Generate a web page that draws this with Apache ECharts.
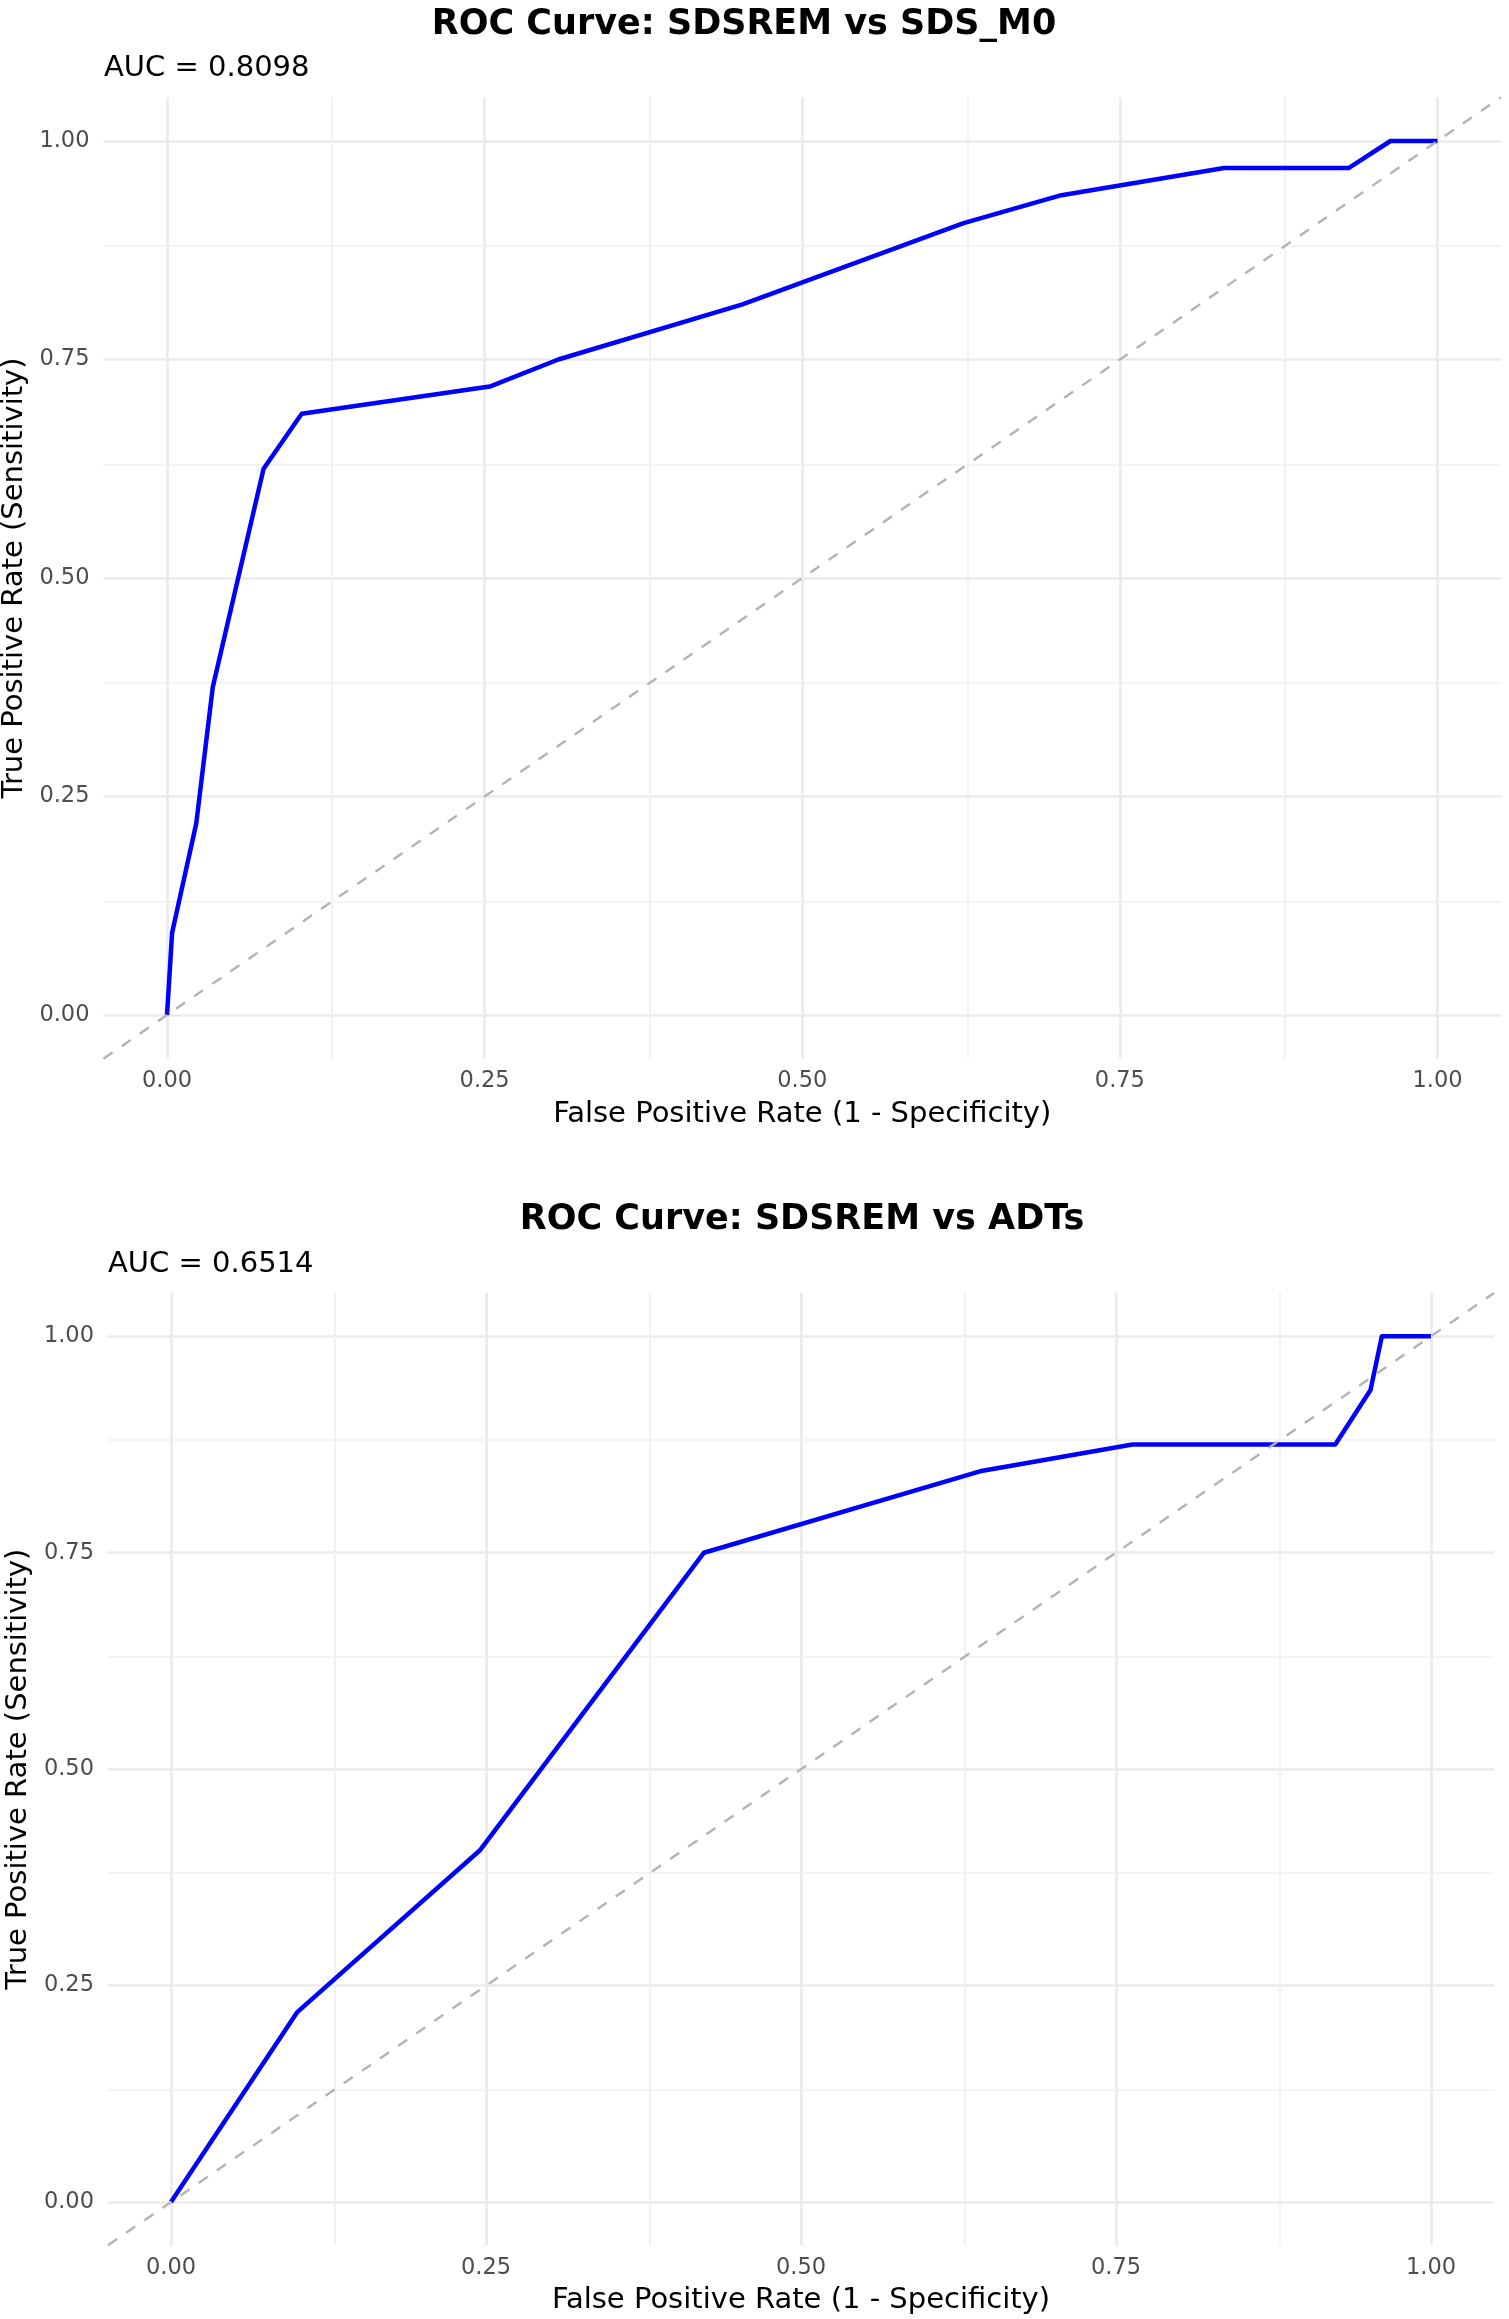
<!DOCTYPE html>
<html><head><meta charset="utf-8">
<script src="https://cdn.jsdelivr.net/npm/echarts@6/dist/echarts.min.js"></script>
<style>html,body{margin:0;padding:0;background:#fff}#c{width:1509px;height:2319px}</style>
</head><body><div id="c"></div>
<script>
const chartTitles = ['ROC Curve: SDSREM vs SDS_M0', 'ROC Curve: SDSREM vs ADTs'];
const aucLabels = ['AUC = 0.8098', 'AUC = 0.6514'];
const xAxisTitle = 'False Positive Rate (1 - Specificity)';
const yAxisTitle = 'True Positive Rate (Sensitivity)';

const fprM0 = [0, 0.004, 0.023, 0.036, 0.076, 0.106, 0.254, 0.308, 0.453, 0.627, 0.704, 0.832, 0.930, 0.963, 1.0];
const tprM0 = [0, 0.094, 0.219, 0.375, 0.625, 0.688, 0.719, 0.750, 0.813, 0.906, 0.938, 0.969, 0.969, 1.0, 1.0];

const fprADT = [0, 0.100, 0.245, 0.423, 0.642, 0.763, 0.924, 0.952, 0.961, 1.0];
const tprADT = [0, 0.219, 0.406, 0.750, 0.844, 0.875, 0.875, 0.938, 1.0, 1.0];

const majorTicks = [0, 0.25, 0.5, 0.75, 1];
const minorTicks = [0.125, 0.375, 0.625, 0.875];
const axisRange = [-0.05, 1.05];

const FONT = '"DejaVu Sans", Verdana, sans-serif';
const chart = echarts.init(document.getElementById('c'), null, {renderer: 'canvas'});

const grids = [
  {left: 103.5, top: 97.3, width: 1397.5, height: 961.4, containLabel: false, outerBoundsMode: 'none'},
  {left: 108, top: 1293, width: 1386, height: 952.3, containLabel: false, outerBoundsMode: 'none'}
];

function isMajor(v) {
  return majorTicks.some(t => Math.abs(t - v) < 1e-6);
}

function makeAxis(kind, idx) {
  const isX = kind === 'x';
  return {
    type: 'value', gridIndex: idx,
    min: axisRange[0], max: axisRange[1], interval: 0.05,
    axisLine: {show: false}, axisTick: {show: false}, splitLine: {show: false},
    axisLabel: {
      formatter: v => isMajor(v) ? v.toFixed(2) : '',
      color: '#4d4d4d', fontSize: 22.5, fontFamily: FONT,
      margin: isX ? 11 : 14
    },
    name: isX ? xAxisTitle : yAxisTitle,
    nameLocation: 'middle',
    nameGap: isX ? 41 : 70,
    nameTextStyle: {color: '#000', fontSize: 29, fontFamily: FONT}
  };
}

function gridLines(idx) {
  const major = {color: '#ebebeb', width: 2.7, type: 'solid'};
  const minor = {color: '#f0f0f0', width: 1.7, type: 'solid'};
  const data = [];
  majorTicks.forEach(v => { data.push({xAxis: v, lineStyle: major}); data.push({yAxis: v, lineStyle: major}); });
  minorTicks.forEach(v => { data.push({xAxis: v, lineStyle: minor}); data.push({yAxis: v, lineStyle: minor}); });
  return {
    type: 'line', xAxisIndex: idx, yAxisIndex: idx, data: [], z: 0, silent: true,
    markLine: {silent: true, symbol: ['none', 'none'], label: {show: false}, z: 0, animation: false, data: data}
  };
}

function curve(idx, fpr, tpr) {
  return {
    type: 'line', xAxisIndex: idx, yAxisIndex: idx, z: 3,
    data: fpr.map((f, i) => [f, tpr[i]]),
    showSymbol: false, symbol: 'none', smooth: false,
    lineStyle: {color: '#0000ff', width: 4.5, join: 'round', cap: 'butt'},
    animation: false
  };
}

function diagonal(idx) {
  return {
    type: 'line', xAxisIndex: idx, yAxisIndex: idx, z: 4,
    data: axisRange.map(v => [v, v]),
    showSymbol: false, symbol: 'none',
    lineStyle: {color: '#b3b3b3', width: 2.4, type: [11, 11]},
    animation: false, silent: true
  };
}

const option = {
  backgroundColor: '#ffffff',
  animation: false,
  grid: grids,
  xAxis: [makeAxis('x', 0), makeAxis('x', 1)],
  yAxis: [makeAxis('y', 0), makeAxis('y', 1)],
  graphic: [
    {type: 'text', x: 744, y: 25, style: {text: chartTitles[0], font: 'bold 35px ' + FONT, fill: '#000', textAlign: 'center', textVerticalAlign: 'middle'}},
    {type: 'text', x: 104, y: 68, style: {text: aucLabels[0], font: '29px ' + FONT, fill: '#000', textAlign: 'left', textVerticalAlign: 'middle'}},
    {type: 'text', x: 802, y: 1220, style: {text: chartTitles[1], font: 'bold 35px ' + FONT, fill: '#000', textAlign: 'center', textVerticalAlign: 'middle'}},
    {type: 'text', x: 108, y: 1264, style: {text: aucLabels[1], font: '29px ' + FONT, fill: '#000', textAlign: 'left', textVerticalAlign: 'middle'}}
  ],
  series: [
    gridLines(0), gridLines(1),
    curve(0, fprM0, tprM0), curve(1, fprADT, tprADT),
    diagonal(0), diagonal(1)
  ]
};
chart.setOption(option);
</script>
</body></html>
